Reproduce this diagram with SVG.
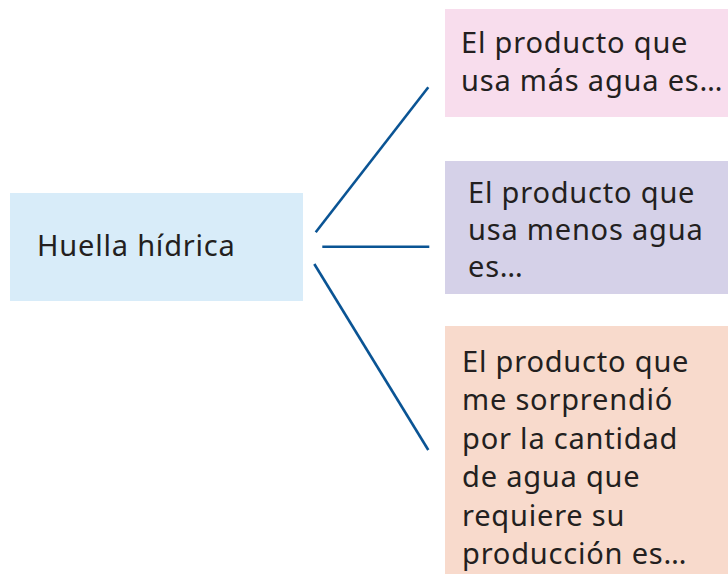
<svg xmlns="http://www.w3.org/2000/svg" width="728" height="574" viewBox="0 0 728 574">
<style>
.t{font-family:"Noto Sans","Open Sans","Liberation Sans",sans-serif;font-size:29px;letter-spacing:0.8px;fill:#231f20}
.c{stroke:#0a5494;stroke-width:2.6;fill:none}
</style>
<rect width="728" height="574" fill="#ffffff"/>
<g id="huella">
<rect x="10" y="193" width="293" height="108" fill="#d8ecf9"/>
<text class="t" x="37" y="256" letter-spacing="1.1">Huella hídrica</text>
</g>
<g id="mas">
<rect x="445" y="9" width="283" height="108" fill="#f8dded"/>
<text class="t" x="461" y="53">El producto que</text>
<text class="t" x="461" y="91">usa más agua es…</text>
</g>
<g id="menos">
<rect x="445" y="161" width="283" height="133" fill="#d5d1e8"/>
<text class="t" x="468" y="203">El producto que</text>
<text class="t" x="468" y="240">usa menos agua</text>
<text class="t" x="468" y="277">es…</text>
</g>
<g id="sorpresa">
<rect x="445" y="326" width="283" height="248" fill="#f8dacc"/>
<text class="t" x="462" y="371.5">El producto que</text>
<text class="t" x="462" y="410">me sorprendió</text>
<text class="t" x="462" y="448.5">por la cantidad</text>
<text class="t" x="462" y="487">de agua que</text>
<text class="t" x="462" y="525.5">requiere su</text>
<text class="t" x="462" y="564">producción es…</text>
</g>
<g id="connectors">
<line class="c" x1="315.7" y1="232.3" x2="428.3" y2="87.3"/>
<line class="c" x1="322.3" y1="246.7" x2="429.3" y2="246.7"/>
<line class="c" x1="314.3" y1="264" x2="428.3" y2="450"/>
</g>
</svg>
